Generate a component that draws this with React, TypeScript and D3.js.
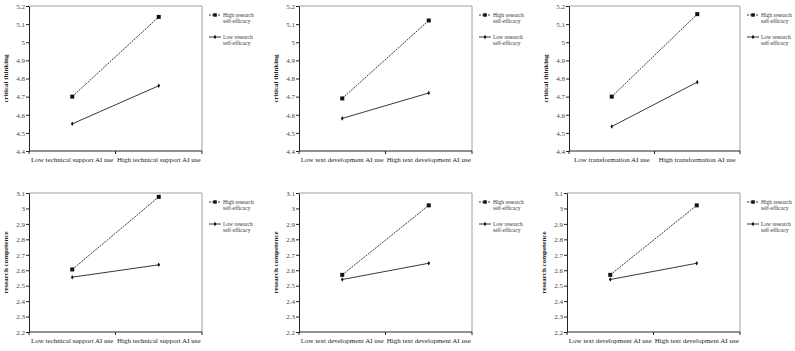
import * as d3 from "d3";
import { useEffect, useRef } from "react";

const xLabels = [
	["Low technical support AI use", "High technical support AI use"],
	["Low text development AI use", "High text development AI use"],
	["Low transformation AI use", "High transformation AI use"],
	["Low technical support AI use", "High technical support AI use"],
	["Low text development AI use", "High text development AI use"],
	["Low text development AI use", "High text development AI use"],
];
const yTitles = [
	"critical thinking",
	"critical thinking",
	"critical thinking",
	"research competence",
	"research competence",
	"research competence",
];
const highValues = [
	[4.7, 5.14],
	[4.69, 5.12],
	[4.7, 5.155],
	[2.605, 3.075],
	[2.57, 3.02],
	[2.57, 3.02],
];
const lowValues = [
	[4.55, 4.76],
	[4.58, 4.72],
	[4.535, 4.78],
	[2.555, 2.635],
	[2.54, 2.645],
	[2.54, 2.645],
];
const ctTicks = [4.4, 4.5, 4.6, 4.7, 4.8, 4.9, 5, 5.1, 5.2];
const rcTicks = [2.2, 2.3, 2.4, 2.5, 2.6, 2.7, 2.8, 2.9, 3, 3.1];
const legendLabels = [
	["High research", "self-efficacy"],
	["Low research", "self-efficacy"],
];

// pixel boxes for each panel
const boxes = [
	{ left: 29, right: 202, top: 6, bottom: 151 },
	{ left: 299, right: 472, top: 6, bottom: 151 },
	{ left: 569, right: 740, top: 6, bottom: 151 },
	{ left: 29, right: 202, top: 193, bottom: 332 },
	{ left: 299, right: 472, top: 193, bottom: 332 },
	{ left: 567, right: 740, top: 193, bottom: 332 },
];

function App() {
	const ref = useRef<SVGSVGElement>(null);

	useEffect(() => {
		const svg = d3.select(ref.current);
		svg.selectAll("*").remove();
		const font = "'Liberation Serif', 'Times New Roman', serif";

		boxes.forEach((b, i) => {
			const ticks = i < 3 ? ctTicks : rcTicks;
			const x = d3
				.scaleBand()
				.domain(xLabels[i])
				.range([b.left, b.right]);
			const y = d3
				.scaleLinear()
				.domain([ticks[0], ticks[ticks.length - 1]])
				.range([b.bottom, b.top]);
			const g = svg.append("g");

			// grey frame top/right
			g.append("path")
				.attr("d", `M${b.left},${b.top}H${b.right}V${b.bottom}`)
				.attr("fill", "none")
				.attr("stroke", "#a0a0a0")
				.attr("stroke-width", 1);

			const yAxis = d3
				.axisLeft(y)
				.tickValues(ticks)
				.tickSize(3)
				.tickSizeOuter(0)
				.tickFormat((d) => String(d));
			const ya = g
				.append("g")
				.attr("transform", `translate(${b.left},0)`)
				.call(yAxis);
			ya.selectAll("text")
				.attr("font-family", font)
				.attr("font-size", 7)
				.attr("fill", "#444")
				.attr("x", -4);
			ya.selectAll("line,path").attr("stroke", "#222");

			// x axis with ticks at band edges
			g.append("line")
				.attr("x1", b.left)
				.attr("x2", b.right)
				.attr("y1", b.bottom)
				.attr("y2", b.bottom)
				.attr("stroke", "#222");
			const edges = [b.left, b.left + x.bandwidth(), b.right];
			g.selectAll(".xt")
				.data(edges)
				.enter()
				.append("line")
				.attr("x1", (d) => d)
				.attr("x2", (d) => d)
				.attr("y1", b.bottom)
				.attr("y2", b.bottom + 3)
				.attr("stroke", "#222");
			g.selectAll(".xl")
				.data(xLabels[i])
				.enter()
				.append("text")
				.attr("x", (d) => (x(d) as number) + x.bandwidth() / 2)
				.attr("y", b.bottom + 11)
				.attr("text-anchor", "middle")
				.attr("font-family", font)
				.attr("font-size", 7)
				.attr("fill", "#222")
				.text((d) => d);

			// y title
			g.append("text")
				.attr(
					"transform",
					`translate(${b.left - 21},${(b.top + b.bottom) / 2}) rotate(-90)`
				)
				.attr("text-anchor", "middle")
				.attr("font-family", font)
				.attr("font-size", 7)
				.attr("font-weight", "bold")
				.attr("fill", "#222")
				.text(yTitles[i]);

			const series = [
				{ values: highValues[i], dash: "2,1", marker: "square" },
				{ values: lowValues[i], dash: null, marker: "dot" },
			];
			const line = d3
				.line<number>()
				.x((_, j) => (x(xLabels[i][j]) as number) + x.bandwidth() / 2)
				.y((d) => y(d));

			series.forEach((s, k) => {
				g.append("path")
					.datum(s.values)
					.attr("d", line)
					.attr("fill", "none")
					.attr("stroke", "#222")
					.attr("stroke-width", 0.9)
					.attr("stroke-dasharray", s.dash);
				g.selectAll(".m" + k)
					.data(s.values)
					.enter()
					.append("path")
					.attr(
						"d",
						d3
							.symbol()
							.type(s.marker === "square" ? d3.symbolSquare : d3.symbolDiamond)
							.size(s.marker === "square" ? 16 : 6)
					)
					.attr(
						"transform",
						(d, j) =>
							`translate(${(x(xLabels[i][j]) as number) + x.bandwidth() / 2},${y(d)})`
					)
					.attr("fill", "#111");

				// legend
				const lx = b.right + 7;
				const ly = b.top + 9 + k * 22;
				g.append("line")
					.attr("x1", lx)
					.attr("x2", lx + 12)
					.attr("y1", ly)
					.attr("y2", ly)
					.attr("stroke", "#222")
					.attr("stroke-width", 0.9)
					.attr("stroke-dasharray", s.dash);
				g.append("path")
					.attr(
						"d",
						d3
							.symbol()
							.type(s.marker === "square" ? d3.symbolSquare : d3.symbolDiamond)
							.size(s.marker === "square" ? 12 : 6)
					)
					.attr("transform", `translate(${lx + 6},${ly})`)
					.attr("fill", "#111");
				legendLabels[k].forEach((t, m) => {
					g.append("text")
						.attr("x", lx + 14)
						.attr("y", ly + 2 + m * 6)
						.attr("font-family", font)
						.attr("font-size", 5.5)
						.attr("fill", "#333")
						.text(t);
				});
			});
		});
	}, []);

	return (
		<svg
			ref={ref}
			width={795}
			height={351}
			style={{ position: "absolute", left: 0, top: 0, background: "#fff" }}
		/>
	);
}

export default App;
